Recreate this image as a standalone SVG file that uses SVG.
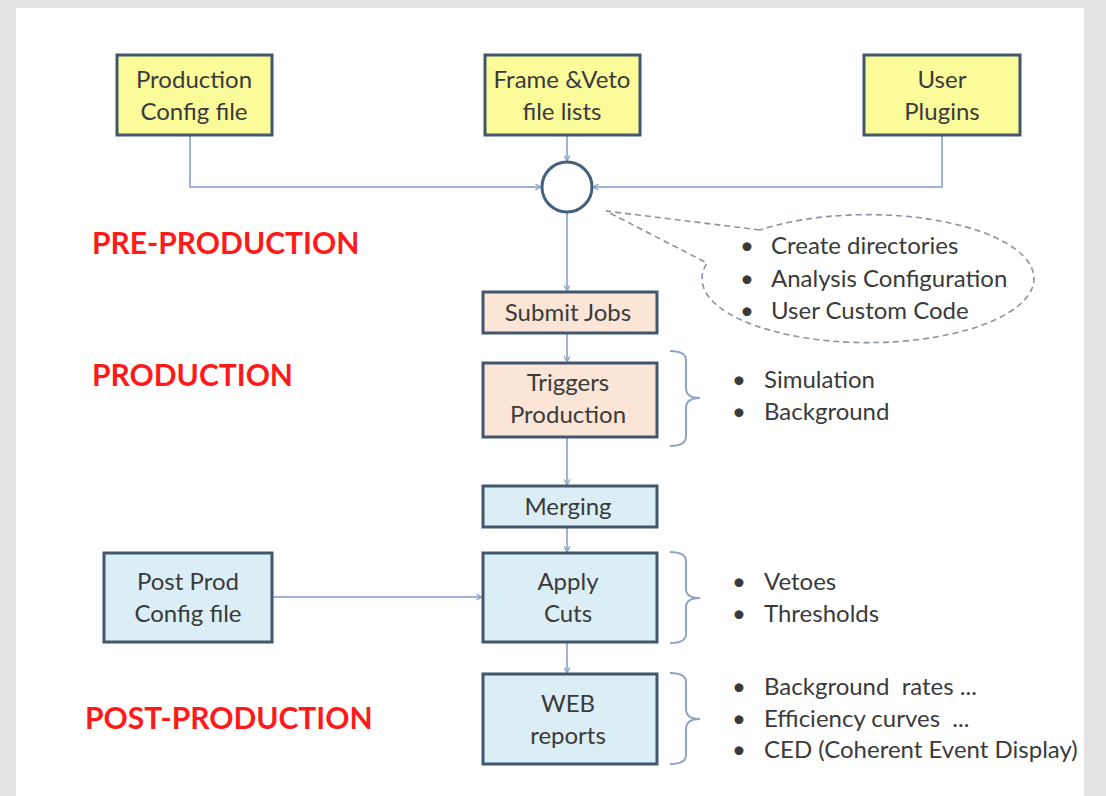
<svg xmlns="http://www.w3.org/2000/svg" width="1106" height="796" viewBox="0 0 1106 796">
<defs>
<style>
.box{stroke:#41576d;stroke-width:3}
.yel{fill:#fbfb9a}
.peach{fill:#fbe5d6}
.blue{fill:#dbeef5}
.t{font-family:Lato,"Liberation Sans",sans-serif;font-size:24px;fill:#3a3a3a;text-anchor:middle}
.b{font-family:Lato,"Liberation Sans",sans-serif;font-size:24px;fill:#3a3a3a}
.phase{font-family:Lato,"Liberation Sans",sans-serif;font-size:30px;font-weight:bold;fill:#ff1a1a}
.con{fill:none;stroke:#9db4d2;stroke-width:2}
.brace{fill:none;stroke:#8ea6c6;stroke-width:2}
</style>
<marker id="ah" viewBox="0 0 10 10" refX="9" refY="5" markerWidth="7" markerHeight="7" orient="auto" markerUnits="userSpaceOnUse">
<path d="M1 1 L9 5 L1 9" fill="none" stroke="#8fa8c8" stroke-width="2"/>
</marker>
</defs>
<rect x="0" y="0" width="1106" height="796" fill="#e4e4e4"/>
<rect x="16" y="8" width="1068" height="788" fill="#ffffff"/>

<g id="connectors">
<path class="con" d="M190 135 V187 H541" marker-end="url(#ah)"/>
<path class="con" d="M942 135 V187 H593" marker-end="url(#ah)"/>
<path class="con" d="M567 135 V161" marker-end="url(#ah)"/>
<path class="con" d="M567 213 V291" marker-end="url(#ah)"/>
<path class="con" d="M567 334 V362" marker-end="url(#ah)"/>
<path class="con" d="M567 438 V485" marker-end="url(#ah)"/>
<path class="con" d="M567 528 V552" marker-end="url(#ah)"/>
<path class="con" d="M567 643 V673" marker-end="url(#ah)"/>
<path class="con" d="M273 597 H482" marker-end="url(#ah)"/>
</g>

<g id="prod-config">
<rect class="box yel" x="117" y="55" width="155" height="80"/>
<text class="t" x="194" y="88">Production</text>
<text class="t" x="194" y="120">Config file</text>
</g>
<g id="frame-veto">
<rect class="box yel" x="485" y="55" width="155" height="80"/>
<text class="t" x="562" y="88">Frame &amp;Veto</text>
<text class="t" x="562" y="120">file lists</text>
</g>
<g id="user-plugins">
<rect class="box yel" x="864" y="55" width="156" height="80"/>
<text class="t" x="942" y="88">User</text>
<text class="t" x="942" y="120">Plugins</text>
</g>

<g id="junction">
<circle cx="567" cy="187" r="25" fill="#ffffff" stroke="#44607f" stroke-width="3"/>
</g>

<g id="callout">
<path d="M760 230 L606 211 L707 263 A166 64 0 1 0 760 230 Z" fill="none" stroke="#8a94a0" stroke-width="1.6" stroke-dasharray="6 4"/>
<text class="b" x="740" y="254">•</text>
<text class="b" x="771" y="254">Create directories</text>
<text class="b" x="740" y="287">•</text>
<text class="b" x="771" y="287">Analysis Configuration</text>
<text class="b" x="740" y="319">•</text>
<text class="b" x="771" y="319">User Custom Code</text>
</g>

<g id="submit-jobs">
<rect class="box peach" x="483" y="292" width="174" height="41"/>
<text class="t" x="568" y="321">Submit Jobs</text>
</g>
<g id="triggers">
<rect class="box peach" x="483" y="363" width="174" height="74"/>
<text class="t" x="568" y="391">Triggers</text>
<text class="t" x="568" y="423">Production</text>
</g>
<g id="merging">
<rect class="box blue" x="483" y="486" width="174" height="41"/>
<text class="t" x="568" y="515">Merging</text>
</g>
<g id="apply-cuts">
<rect class="box blue" x="483" y="553" width="174" height="89"/>
<text class="t" x="568" y="590">Apply</text>
<text class="t" x="568" y="622">Cuts</text>
</g>
<g id="web-reports">
<rect class="box blue" x="483" y="674" width="174" height="90"/>
<text class="t" x="568" y="712">WEB</text>
<text class="t" x="568" y="744">reports</text>
</g>
<g id="post-prod-config">
<rect class="box blue" x="104" y="553" width="168" height="89"/>
<text class="t" x="188" y="590">Post Prod</text>
<text class="t" x="188" y="622">Config file</text>
</g>

<g id="braces">
<path class="brace" d="M670 351 Q686 351 686 360 V388 Q686 398 700 398 Q686 398 686 408 V436 Q686 446 670 446"/>
<path class="brace" d="M670 552 Q686 552 686 561 V589 Q686 598 700 598 Q686 598 686 607 V634 Q686 643 670 643"/>
<path class="brace" d="M670 673 Q686 673 686 682 V709 Q686 719 700 719 Q686 719 686 729 V755 Q686 764 670 764"/>
</g>

<g id="lists">
<text class="b" x="732" y="388">•</text>
<text class="b" x="764" y="388">Simulation</text>
<text class="b" x="732" y="420">•</text>
<text class="b" x="764" y="420">Background</text>
<text class="b" x="732" y="590">•</text>
<text class="b" x="764" y="590">Vetoes</text>
<text class="b" x="732" y="622">•</text>
<text class="b" x="764" y="622">Thresholds</text>
<text class="b" x="732" y="695">•</text>
<text class="b" x="764" y="695" xml:space="preserve">Background  rates ...</text>
<text class="b" x="732" y="727">•</text>
<text class="b" x="764" y="727" xml:space="preserve">Efficiency curves  ...</text>
<text class="b" x="732" y="758">•</text>
<text class="b" x="764" y="758">CED (Coherent Event Display)</text>
</g>

<g id="phases">
<text class="phase" x="92" y="254">PRE-PRODUCTION</text>
<text class="phase" x="92" y="386">PRODUCTION</text>
<text class="phase" x="85" y="729">POST-PRODUCTION</text>
</g>
</svg>
